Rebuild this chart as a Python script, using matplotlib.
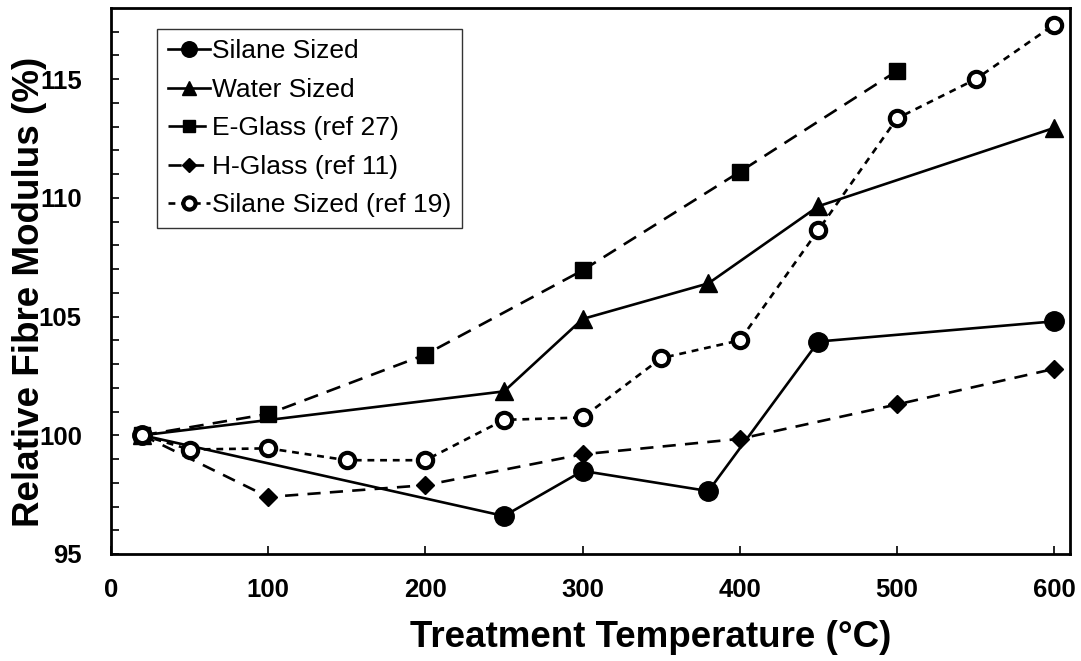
import matplotlib
matplotlib.use("Agg")
import matplotlib.pyplot as plt

# Treatment temperature (deg C) and relative fibre modulus (%) for each series
silane_T = [20, 250, 300, 380, 450, 600]
silane_E = [100.0, 96.6, 98.5, 97.65, 103.95, 104.8]

water_T = [20, 250, 300, 380, 450, 600]
water_E = [100.0, 101.85, 104.9, 106.4, 109.65, 112.95]

eglass_T = [20, 100, 200, 300, 400, 500]
eglass_E = [100.0, 100.9, 103.4, 106.95, 111.1, 115.35]

hglass_T = [20, 100, 200, 300, 400, 500, 600]
hglass_E = [100.0, 97.4, 97.9, 99.2, 99.85, 101.3, 102.8]

ref19_T = [20, 50, 100, 150, 200, 250, 300, 350, 400, 450, 500, 550, 600]
ref19_E = [100.0, 99.4, 99.45, 98.95, 98.95, 100.65, 100.75, 103.25, 104.0,
           108.65, 113.35, 115.0, 117.3]

plt.rcParams['font.family'] = ['Liberation Sans', 'DejaVu Sans']

fig = plt.figure(figsize=(10.81, 6.61), dpi=100)
ax = fig.add_axes([0.1027, 0.1619, 0.8871, 0.8260])

lw = 1.9
ax.plot(silane_T, silane_E, color='black', lw=lw, ls='-', marker='o',
        ms=14, mfc='black', mec='black', label='Silane Sized', zorder=3)
ax.plot(water_T, water_E, color='black', lw=lw, ls='-', marker='^',
        ms=13, mfc='black', mec='black', label='Water Sized', zorder=3)
ax.plot(eglass_T, eglass_E, color='black', lw=lw, ls=(0, (5.5, 3.5)), marker='s',
        ms=11, mfc='black', mec='black', label='E-Glass (ref 27)', zorder=3)
ax.plot(hglass_T, hglass_E, color='black', lw=lw, ls=(0, (5.0, 3.5)), marker='D',
        ms=9, mfc='black', mec='black', label='H-Glass (ref 11)', zorder=3)
ax.plot(ref19_T, ref19_E, color='black', lw=lw, ls=(0, (2.6, 2.2)), marker='o',
        ms=11, mfc='white', mec='black', mew=3, label='Silane Sized (ref 19)', zorder=4)

ax.set_xlim(0, 610)
ax.set_ylim(95, 118)
ax.set_xticks(range(0, 601, 100))
ax.set_yticks(range(95, 116, 5))
ax.set_yticks(range(95, 118), minor=True)

for s in ax.spines.values():
    s.set_linewidth(2)

ax.tick_params(axis='both', which='both', direction='in', width=1.2, length=6)
ax.tick_params(axis='x', pad=17, labelsize=18.5)
ax.tick_params(axis='y', pad=21, labelsize=18.5)
for lab in ax.get_xticklabels() + ax.get_yticklabels():
    lab.set_fontweight('bold')

ax.set_xlabel('Treatment Temperature (°C)', fontsize=26.5, fontweight='bold')
ax.set_ylabel('Relative Fibre Modulus (%)', fontsize=26.5, fontweight='bold')
ax.xaxis.set_label_coords(0.563, -0.12)
ax.yaxis.set_label_coords(-0.067, 0.48)

leg = ax.legend(loc='upper left', bbox_to_anchor=(0.048, 0.962), borderaxespad=0,
                fontsize=19, frameon=True, fancybox=False, edgecolor='black',
                handlelength=1.6, handletextpad=0.1, labelspacing=0.55,
                borderpad=0.4, markerscale=0.8)
leg.get_frame().set_linewidth(1.0)

fig.savefig('out.png', dpi=100)
